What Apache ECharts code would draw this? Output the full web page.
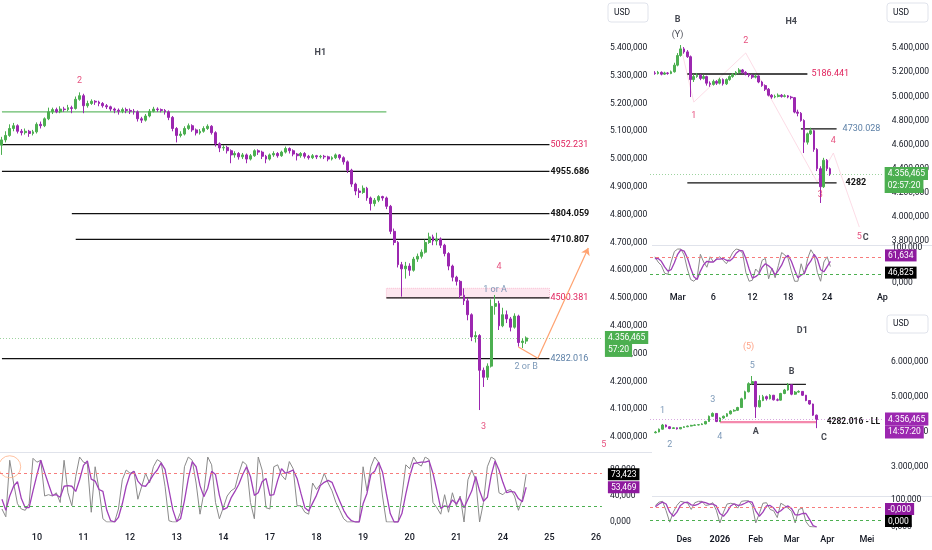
<!DOCTYPE html>
<html><head><meta charset="utf-8">
<script src="https://cdn.jsdelivr.net/npm/echarts@6/dist/echarts.min.js"></script>
<style>html,body{margin:0;padding:0;background:#fff}#c{width:932px;height:550px}</style>
</head><body><div id="c"></div>
<script>
// ================= DATA =================
// ---- H1 (2-hour slots) ----
const h1DayLabels = ['10','11','12','13','14','17','18','19','20','21','24','25','26'];
const h1DaySlots  = [9,21,33,45,57,69,81,93,105,117,129,141,153];
const h1SlotCount = 155;
const h1FirstOpen = 5050;
const h1Close = [5069,5085,5110,5120,5100,5095,5100,5092,5098,5125, 5120,5145,5170,5178,5170,5180,5178,5185,5182,5215,
 5228,5192,5200,5208,5205,5200,5192,5188,5180,5176, 5172,5178,5175,5172,5170,5145,5140,5155,5172,5180,
 5178,5175,5170,5150,5110,5085,5090,5110,5120,5105, 5094,5100,5110,5118,5095,5055,5040,5042,5030,5015,
 5020,5008,5015,5000,5012,5030,5025,5010,5000,5015, 5020,5012,5025,5038,5030,5018,5012,5020,5010,5005,
 5012,5008,5010,5008,5000,5005,5015,5005,4990,4960, 4910,4885,4880,4895,4860,4840,4852,4865,4860,4830,
 4740,4700,4620,4605,4615,4600,4640,4650,4665,4700, 4720,4705,4712,4690,4660,4615,4575,4560,4510,4490,
 4440,4360,4365,4240,4215,4255,4470,4480,4400,4440, 4425,4395,4435,4340,4345,4356.465];
const h1Low = [5015,5060,5080,5100,5092,5085,5088,5080,5085,5092, 5110,5115,5140,5162,5165,5165,5170,5172,5165,5178,
 5210,5165,5185,5195,5195,5190,5185,5180,5172,5165, 5160,5165,5165,5162,5160,5135,5130,5135,5150,5168,
 5170,5168,5160,5140,5100,5060,5078,5085,5105,5098, 5085,5088,5095,5105,5088,5045,5025,5030,5020,4985,
 5005,4998,5000,4985,4995,5008,5015,5000,4985,4995, 5008,5005,5008,5020,5020,5010,4995,5005,5002,4998,
 5000,5000,5002,5000,4992,4995,5000,4998,4980,4950, 4900,4870,4860,4875,4850,4815,4830,4845,4850,4820,
 4730,4690,4610,4505,4570,4580,4595,4630,4642,4660, 4695,4690,4690,4680,4650,4600,4560,4545,4500,4475,
 4420,4345,4340,4097,4180,4205,4250,4440,4385,4395, 4410,4380,4390,4325,4320,4335];
const h1High = [5080,5100,5125,5130,5125,5108,5110,5105,5105,5132, 5135,5150,5185,5185,5185,5190,5188,5195,5192,5225,
 5240,5235,5210,5215,5212,5210,5205,5198,5192,5185, 5182,5185,5185,5182,5180,5175,5152,5162,5180,5188,
 5186,5182,5180,5175,5155,5115,5100,5118,5128,5125, 5110,5108,5118,5125,5122,5100,5060,5050,5048,5035,
 5028,5025,5022,5020,5018,5035,5035,5030,5015,5020, 5028,5025,5030,5045,5042,5035,5022,5025,5025,5015,
 5018,5015,5015,5015,5012,5010,5020,5018,5010,4995, 4965,4915,4895,4905,4900,4865,4860,4870,4868,4865,
 4835,4750,4705,4630,4630,4625,4648,4660,4675,4710, 4735,4728,4735,4718,4695,4665,4620,4580,4565,4535,
 4500,4445,4380,4370,4250,4265,4495,4511,4490,4465, 4455,4432,4445,4440,4355,4362];
const h1K = [20,8,95,60,28,20,18,28,98,92, 95,40,42,40,45,30,95,45,25,70, 100,92,90,15,85,50,5,0,0,0,
 20,65,80,75,78,35,55,75,60,85, 96,92,55,2,0,0,15,85,100,95, 60,12,45,100,88,30,5,22,40,48,
 52,75,93,88,30,5,100,80,22,20, 85,88,72,65,93,82,25,25,15,12, 60,50,58,75,60,48,30,18,5,0,
 0,0,0,85,48,85,100,92,40,0, 0,0,0,40,88,82,100,90,86,100, 96,30,22,12,42,15,45,25,40,0,
 65,80,65,0,30,85,100,96,45,42, 48,50,40,18,35,73.423];
const h1D = [35,18,40,55,62,36,22,22,48,72, 95,76,58,41,42,38,55,56,55,47, 65,87,94,66,63,50,47,18,2,0,
 7,28,55,73,78,63,56,55,63,73, 80,91,81,50,19,1,5,33,67,93, 85,56,39,52,78,73,41,19,22,37,
 47,58,73,85,70,41,45,62,67,41, 42,64,82,75,77,80,67,44,22,17, 29,41,56,61,64,61,46,32,18,8,
 2,0,0,28,44,73,78,92,77,44, 13,0,0,13,43,70,90,91,92,92, 94,75,49,21,25,23,34,28,37,22,
 35,48,70,48,32,38,72,94,80,61, 45,47,46,36,31,53.469];
const h1Timer = '57:20';
const h1LevelPrice = [5170, 5052.231, 4955.686, 4804.059, 4710.807, 4500.381, 4282.016];
const h1LevelFrom  = [-0.5, -0.5, -0.5, 18.0, 18.6, 98.65, -0.5];
const h1LevelTo    = [98.65, 140.6, 140.6, 140.6, 140.6, 140.6, 140.6];
const h1LevelText  = ['', '5052.231', '4955.686', '4804.059', '4710.807', '4500.381', '4282.016'];
const h1Zone = [4500.381, 4535];
const h1PathX = [132.8, 137.8, 151.4];
const h1PathY = [4324, 4283, 4680];
const h1Notes = [[20.1,5281,'2','r'],[127.5,4612,'4','r'],[127.2,4529,'1 or A','b'],[134.7,4252,'2 or B','b'],
 [123.6,4036,'3','r'],[154.8,3972,'5','r'],[82.2,5382,'H1','kb']];
const h1Circle = [2, 85];

// ---- H4 (half-day slots) ----
const h4Labels = ['Mar','6','12','18','24','Ap'];
const h4LabelSlots = [8,19,31,42,54,71];
const h4SlotCount = 72;
const h4Start = 1;
const h4FirstOpen = 5195;
const h4Close = [5190,5200,5185,5195,5190,5205,5260,5340,5395,5370, 5330,5140,5165,5175,5150,5165,5110,5100,5125,5110,
 5140,5105,5140,5165,5185,5200,5220,5200,5185,5175, 5160,5170,5120,5090,5060,5010,4995,5000,5010,5000,
 5005,4995,4990,4870,4860,4800,4620,4690,4715,4560, 4400,4250,4470,4400,4356.465];
const h4High = [5210,5212,5208,5205,5202,5215,5280,5360,5427,5410, 5385,5340,5185,5195,5185,5180,5172,5125,5140,5135,
 5155,5150,5150,5175,5195,5210,5235,5228,5210,5195, 5185,5182,5175,5130,5100,5070,5020,5015,5025,5020,
 5018,5012,5005,4995,4890,4870,4810,4700,4740,4725, 4570,4420,4490,4480,4410];
const h4Low = [5180,5182,5175,5178,5180,5185,5198,5250,5330,5355, 5320,4995,5120,5155,5135,5140,5090,5080,5090,5095,
 5100,5090,5095,5130,5155,5175,5190,5190,5175,5160, 5145,5150,5110,5080,5045,5000,4980,4985,4992,4990,
 4992,4985,4975,4860,4835,4790,4530,4600,4680,4540, 4380,4115,4240,4380,4340];
const h4K = [75,60,50,28,25,60,90,97,97,80, 40,10,5,15,82,60,45,75,60,70, 75,65,55,70,88,97,95,85,30,5,
 8,40,30,65,70,12,42,15,50,87, 80,70,35,5,5,55,25,70,95,80, 30,5,60,75,46.825];
const h4D = [70,70,62,46,34,38,58,82,95,91, 72,43,18,10,34,52,62,60,60,68, 68,70,65,63,71,85,93,92,70,40,
 14,18,26,45,55,49,41,23,36,51, 72,79,62,37,15,22,28,50,63,82, 68,38,32,47,61.634];
const h4Timer = '02:57:20';
const h4LevelPrice = [5186.441, 4730.028, 4282];
const h4LevelFrom  = [10.9, 46.0, 11.0];
const h4LevelTo    = [47.8, 57.3, 57.3];
const h4LevelText  = ['5186.441', '4730.028', '4282'];
const h4WaveX = [9.3, 12.7, 28.7, 51.2, 56.1, 63.5];
const h4WaveY = [5411, 4953, 5361, 4290, 4530, 3915];
const h4Notes = [[7.5,5635,'B','kb'],[7.5,5510,'(Y)','k'],[28.7,5461,'2','r'],[13,4838,'1','r'],[42.6,5618,'H4','kb'],
 [56.1,4630,'4','r'],[51.8,4182,'3','r'],[63.5,3833,'5','r'],[66.3,3825,'C','kb']];

// ---- D1 (3-day slots) ----
const d1Labels = ['Des','2026','Feb','Mar','Apr','Mei'];
const d1LabelSlots = [9,19,29,39,49,60];
const d1SlotCount = 65;
const d1Start = 1;
const d1FirstOpen = 3980;
const d1Close = [4000,4080,4200,4150,4100,4120,4090,4130,4150,4170, 4190,4200,4210,4230,4300,4450,4530,4300,4400,4450,
 4520,4600,4620,4700,4950,5150,5380,5440,4720,4900, 5010,4950,5050,4920,4910,5100,5200,5350,5080,5140,
 5160,5050,4900,4800,4480,4356.465];
const d1High = [4030,4100,4230,4215,4160,4135,4130,4140,4165,4185, 4205,4215,4225,4250,4320,4470,4560,4540,4420,4470,
 4540,4620,4650,4720,4980,5180,5420,5600,5460,5050, 5060,5040,5080,5060,4960,5120,5230,5400,5360,5170,
 5190,5170,5060,4910,4810,4500];
const d1Low = [3960,3990,4070,4130,4080,4090,4070,4080,4120,4140, 4160,4175,4190,4200,4220,4290,4430,4280,4290,4380,
 4430,4500,4580,4600,4690,4930,5130,5350,4400,4700, 4880,4900,4930,4900,4880,4900,5080,5180,5050,5060,
 5120,5030,4880,4780,4460,4110];
const d1K = [80,92,95,60,18,55,80,95,92,88, 65,90,95,95,80,82,90,62,15,55, 85,88,85,70,95,97,97,80,15,50,
 88,90,65,60,35,88,80,70,58,15, 65,70,20,2,0,0];
const d1D = [75,85,92,85,55,40,55,80,90,92, 82,80,85,93,90,85,85,78,50,40, 55,78,86,80,82,88,95,92,60,40,
 55,78,80,70,52,60,72,78,68,45, 45,50,50,28,5,-0.0001];
const d1Timer = '14:57:20';
const d1LevelPrice = [5363, 4282.016];
const d1LevelFrom  = [26.6, 18.5];
const d1LevelTo    = [43.3, 46.4];
const d1LevelText  = ['', '4282.016 - LL'];
const d1Notes = [[41.9,6886,'D1','kb'],[27.4,6429,'(5)','o'],[27.7,5886,'5','b'],[38.5,5714,'B','kb'],[3.4,4600,'1','b'],
 [17.4,4914,'3','b'],[29.3,4000,'A','kb'],[5.1,3629,'2','b'],[19.3,3857,'4','b'],[48,3829,'C','kb']];
const oscUpper = 75, oscLower = 25;

// ================= STYLE / BUILD =================
const FONT = 'Roboto, "Liberation Sans", sans-serif';
const TXT = '#131722';
const UP = '#4caf50', DN = '#9c27b0';
const NOTE_COLORS = {r:'#e0245e', b:'#5b7fa6', k:TXT, kb:TXT, o:'#ff8a65'};
const CLEAR = 'rgba(0,0,0,0)';

function fmt(v){
  const neg = v < 0;
  let [ip, dp] = Math.abs(v).toFixed(3).split('.');
  ip = ip.replace(/\B(?=(\d{3})+(?!\d))/g, '.');
  return (neg ? '-' : '') + ip + ',' + dp;
}
function cats(n, labels, slots, boldLabel){
  const a = new Array(n).fill('');
  labels.forEach((l, i) => { a[slots[i]] = (l === boldLabel) ? {value:l, textStyle:{fontWeight:'bold'}} : l; });
  return a;
}
function candles(first, close, low, high, offset, total){
  const out = new Array(total).fill('-');
  close.forEach((c, i) => {
    const o = i ? close[i-1] : first;
    out[offset+i] = [o, c, Math.min(low[i], o, c), Math.max(high[i], o, c)];
  });
  return out;
}
function pairs(arr, offset){ return arr.map((v, i) => [offset+i, v]); }

function priceMark(price, timer, lineColor, bg, dist){
  return {
    symbol:'none', silent:true, animation:false,
    data:[{yAxis:price}],
    lineStyle:{color:lineColor, type:[1,2], width:1},
    label:{show:true, position:'end', distance:dist,
      formatter:'{s| }\n{p|'+fmt(price)+'}\n{t|'+timer+'}',
      rich:{
        s:{height:12, fontSize:8},
        p:{backgroundColor:bg, color:'#fff', fontSize:8.5, fontFamily:FONT, height:12, padding:[1,3,0,3]},
        t:{backgroundColor:bg, color:'#fff', fontSize:8.5, fontFamily:FONT, height:12, padding:[0,3,1,3]}
      }}
  };
}
function candleSeries(xi, yi, data, bw, mark){
  return {type:'candlestick', xAxisIndex:xi, yAxisIndex:yi, data:data, barWidth:bw,
    itemStyle:{color:UP, color0:DN, borderColor:UP, borderColor0:DN, borderWidth:1},
    markLine:mark, z:4};
}
function levelSeries(xi, yi, price, from, to, color, width, text, textColor, bold, dist, fs){
  return {type:'line', xAxisIndex:xi, yAxisIndex:yi, symbol:'none', silent:true,
    data:[[from, price],[to, price]], lineStyle:{color:color, width:width}, z:3,
    endLabel:{show: !!text, formatter:text, color:textColor, fontSize:fs || 9, fontFamily:FONT,
      fontWeight: bold ? 'bold' : 'normal', distance:dist}};
}
function noteSeries(xi, yi, notes){
  return {type:'scatter', xAxisIndex:xi, yAxisIndex:yi, clip:false, silent:true, symbolSize:1, z:6,
    itemStyle:{color:CLEAR},
    data: notes.map(n => ({value:[n[0], n[1]], label:{show:true, position:'inside', formatter:n[2],
      color:NOTE_COLORS[n[3]], fontSize:9, fontFamily:FONT, fontWeight: n[3]==='kb' ? 'bold' : 'normal'}}))};
}
function oscBox(v, bg, dist, va, spacerBelow){
  return {yAxis:v, lineStyle:{color:CLEAR, width:1, type:'solid'},
    label:{show:true, position:'end', distance:dist, verticalAlign:va,
      formatter: spacerBelow ? '{a|'+fmt(v)+'}\n{b| }' : '{a|'+fmt(v)+'}',
      rich:{a:{backgroundColor:bg, color:'#fff', fontSize:8.5, fontFamily:FONT, padding:[2,3,1,3]}, b:{height:12}}}};
}
function oscSeries(xi, yi, K, D, offset, dist, vaK, vaD, spK, spD){
  const lv = [{yAxis:oscUpper, lineStyle:{color:'#f77c7c', type:[3,3], width:1}, label:{show:false}},
              {yAxis:oscLower, lineStyle:{color:'#4caf50', type:[3,3], width:1}, label:{show:false}}];
  return [
    {type:'line', xAxisIndex:xi, yAxisIndex:yi, data:pairs(K, offset), symbol:'none', silent:true,
     lineStyle:{color:'#8a8a8a', width:1}, z:3,
     markLine:{symbol:'none', silent:true, animation:false, z:7,
       data: lv.concat([oscBox(K[K.length-1], '#000', dist, vaK, spK)])}},
    {type:'line', xAxisIndex:xi, yAxisIndex:yi, data:pairs(D, offset), symbol:'none', silent:true,
     lineStyle:{color:'#a040b8', width:1.3}, z:4,
     markLine:{symbol:'none', silent:true, animation:false, z:8,
       data:[oscBox(D[D.length-1], '#8e1a9e', dist, vaD, spD)]}}
  ];
}

// geometry
const grids = [
  {left:0, top:20.1, width:601.9, height:416.9},
  {left:0, top:457, width:601.9, height:65},
  {left:650, top:24.2, width:234, height:216.7},
  {left:650, top:248, width:234, height:35},
  {left:650, top:327, width:233, height:140},
  {left:650, top:500, width:233, height:27}
];
const h1Cats = cats(h1SlotCount, h1DayLabels, h1DaySlots);
const h4Cats = cats(h4SlotCount, h4Labels, h4LabelSlots);
const d1Cats = cats(d1SlotCount, d1Labels, d1LabelSlots, '2026');
function xAx(gi, data, show, margin){
  return {type:'category', gridIndex:gi, data:data, boundaryGap:true, show:true,
    axisLine:{show:false}, axisTick:{show:false}, splitLine:{show:false},
    axisLabel:{show:show, interval:(i, v) => v !== '', margin:margin, color:TXT, fontSize:9, fontFamily:FONT, fontWeight:500}};
}
function yAx(gi, min, max, interval, hideFn){
  return {type:'value', gridIndex:gi, position:'right', min:min, max:max, interval:interval,
    axisLine:{show:false}, axisTick:{show:false}, splitLine:{show:false},
    axisLabel:{margin:8, color:TXT, fontSize:8.5, fontFamily:FONT, formatter:v => hideFn(v) ? '' : fmt(v)}};
}

const series = [];
// H1
series.push(candleSeries(0, 0, candles(h1FirstOpen, h1Close, h1Low, h1High, 0, h1SlotCount), 2.4,
  priceMark(h1Close[h1Close.length-1], h1Timer, 'rgba(76,175,80,0.55)', UP, 3)));
h1LevelPrice.forEach((p, i) => {
  const s = levelSeries(0, 0, p, h1LevelFrom[i], h1LevelTo[i], i === 0 ? '#66bb6a' : '#111', i === 0 ? 1.2 : 1.3,
    h1LevelText[i], (i === 1 || i === 5) ? '#e0245e' : (i === 6 ? '#5b7fa6' : '#111'), (i >= 2 && i <= 4), 1);
  if (i === 5) {
    s.markArea = {silent:true, itemStyle:{color:'rgba(248,187,208,0.35)', borderColor:'#f8bbd0', borderWidth:1, borderType:'dotted'},
      data:[[{coord:[h1LevelFrom[i], h1Zone[0]]},{coord:[h1LevelTo[i], h1Zone[1]]}]]};
  }
  series.push(s);
});
series.push({type:'line', xAxisIndex:0, yAxisIndex:0, data:[], silent:true,
  markLine:{silent:true, animation:false, symbol:['none','none'], lineStyle:{color:'#ffa270', width:1.2, type:'solid'}, label:{show:false},
    data:[
      [{coord:[h1PathX[0], h1PathY[0]]},{coord:[h1PathX[1], h1PathY[1]]}],
      [{coord:[h1PathX[1], h1PathY[1]]},{coord:[h1PathX[2], h1PathY[2]], symbol:'arrow', symbolSize:7}]
    ]}});
series.push(noteSeries(0, 0, h1Notes));
series.push(...oscSeries(1, 1, h1K, h1D, 0, 6, 'middle', 'middle', false, false));
series.push({type:'scatter', xAxisIndex:1, yAxisIndex:1, clip:false, silent:true, data:[h1Circle], symbol:'circle', symbolSize:22,
  itemStyle:{color:CLEAR, borderColor:'#ffb38a', borderWidth:1}, z:5});

// H4
series.push(candleSeries(2, 2, candles(h4FirstOpen, h4Close, h4Low, h4High, h4Start, h4SlotCount), 2.2,
  priceMark(h4Close[h4Close.length-1], h4Timer, 'rgba(76,175,80,0.55)', UP, 1)));
h4LevelPrice.forEach((p, i) => {
  series.push(levelSeries(2, 2, p, h4LevelFrom[i], h4LevelTo[i], '#111', 1.3, h4LevelText[i],
    i === 0 ? '#e0245e' : (i === 1 ? '#5b7fa6' : '#111'), i === 2, i === 0 ? 4 : (i === 1 ? 6 : 9)));
});
series.push({type:'line', xAxisIndex:2, yAxisIndex:2, symbol:'none', silent:true, z:2,
  data:h4WaveX.map((x, i) => [x, h4WaveY[i]]), lineStyle:{color:'#fbd3e0', width:0.8}, clip:false});
series.push(noteSeries(2, 2, h4Notes));
series.push(...oscSeries(3, 3, h4K, h4D, h4Start, 1, 'top', 'bottom', false, false));

// D1
series.push(candleSeries(4, 4, candles(d1FirstOpen, d1Close, d1Low, d1High, d1Start, d1SlotCount), 2.2,
  priceMark(d1Close[d1Close.length-1], d1Timer, 'rgba(206,147,216,0.8)', '#9c27b0', 2)));
d1LevelPrice.forEach((p, i) => {
  series.push(levelSeries(4, 4, p, d1LevelFrom[i], d1LevelTo[i], i === 0 ? '#222' : 'rgba(240,98,146,0.75)', i === 0 ? 1.3 : 2.2,
    d1LevelText[i], '#111', true, 10, 8.5));
});
series.push(noteSeries(4, 4, d1Notes));
series.push(...oscSeries(5, 5, d1K, d1D, d1Start, 2, 'bottom', 'bottom', false, true));

const usdBox = (x, y, w, h) => ({type:'group', children:[
  {type:'rect', shape:{x:x, y:y, width:w, height:h, r:3}, style:{fill:'#fff', stroke:'#e0e3eb', lineWidth:1}},
  {type:'text', x:x+6, y:y+h/2, style:{text:'USD', fill:TXT, fontSize:8.5, fontFamily:FONT, verticalAlign:'middle'}}
]});

const option = {
  animation:false,
  textStyle:{fontFamily:FONT},
  grid:grids,
  xAxis:[xAx(0,h1Cats,false,0), xAx(1,h1Cats,true,11), xAx(2,h4Cats,false,0), xAx(3,h4Cats,true,10), xAx(4,d1Cats,false,0), xAx(5,d1Cats,true,8)],
  yAxis:[
    yAx(0, 4000, 5500, 100, v => v > 5400),
    yAx(1, 0, 100, 40, v => v >= 100),
    yAx(2, 3800, 5600, 200, v => v > 5400),
    yAx(3, 0, 100, 100, v => false),
    yAx(4, 3000, 7000, 1000, v => v > 6000),
    yAx(5, 0, 100, 100, v => false)
  ],
  graphic:[
    {type:'line', shape:{x1:0, y1:452.5, x2:652, y2:452.5}, style:{stroke:'#e0e3eb', lineWidth:1}, z:-1},
    {type:'line', shape:{x1:652, y1:245.5, x2:932, y2:245.5}, style:{stroke:'#e0e3eb', lineWidth:1}, z:-1},
    {type:'line', shape:{x1:652, y1:496.5, x2:932, y2:496.5}, style:{stroke:'#e0e3eb', lineWidth:1}, z:-1},
    usdBox(608, 3, 40, 19), usdBox(887, 3, 41, 19), usdBox(887, 315, 41, 18)
  ],
  series:series
};
const chart = echarts.init(document.getElementById('c'));
chart.setOption(option);
</script></body></html>
